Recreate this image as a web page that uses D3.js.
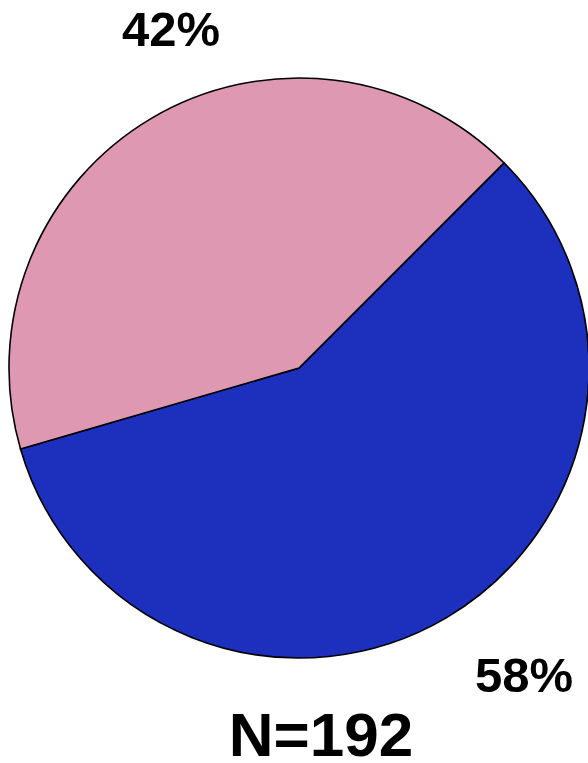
<!DOCTYPE html>
<html>
<head>
<meta charset="utf-8">
<script src="https://cdn.jsdelivr.net/npm/d3@7"></script>
<style>
  body { margin: 0; background: #fff; }
  text { font-family: "Liberation Sans", Arial, sans-serif; font-weight: bold; fill: #000; }
</style>
</head>
<body>
<svg id="pie" width="588" height="763"></svg>
<script>
const categories = ["A", "B"];
const shares = [58, 42];
const labels = ["58%", "42%"];
const colors = ["#1c2fbd", "#de98b1"];
const totalN = 192;

const svg = d3.select("#pie");
const cx = 299, cy = 368, radius = 290;

const g = svg.append("g")
  .attr("transform", `translate(${cx},${cy})`);

const pie = d3.pie()
  .sort(null)
  .value(d => d)
  .startAngle(Math.PI / 4)
  .endAngle(Math.PI / 4 + 2 * Math.PI);

const arc = d3.arc().innerRadius(0).outerRadius(radius);
const arcs = pie(shares);

g.selectAll("path")
  .data(arcs)
  .enter()
  .append("path")
  .attr("d", arc)
  .attr("fill", (d, i) => colors[i])
  .attr("stroke", "#000")
  .attr("stroke-width", 1.6);

// percentage labels sit outside the circle
const labelPos = [[225, 324], [-128, -322]];
g.selectAll("text.pct")
  .data(arcs)
  .enter()
  .append("text")
  .attr("class", "pct")
  .attr("x", (d, i) => labelPos[i][0])
  .attr("y", (d, i) => labelPos[i][1])
  .attr("text-anchor", "middle")
  .style("font-size", "49px")
  .text((d, i) => labels[i]);

svg.append("text")
  .attr("x", 321)
  .attr("y", 756)
  .attr("text-anchor", "middle")
  .style("font-size", "62px")
  .text(`N=${totalN}`);
</script>
</body>
</html>
